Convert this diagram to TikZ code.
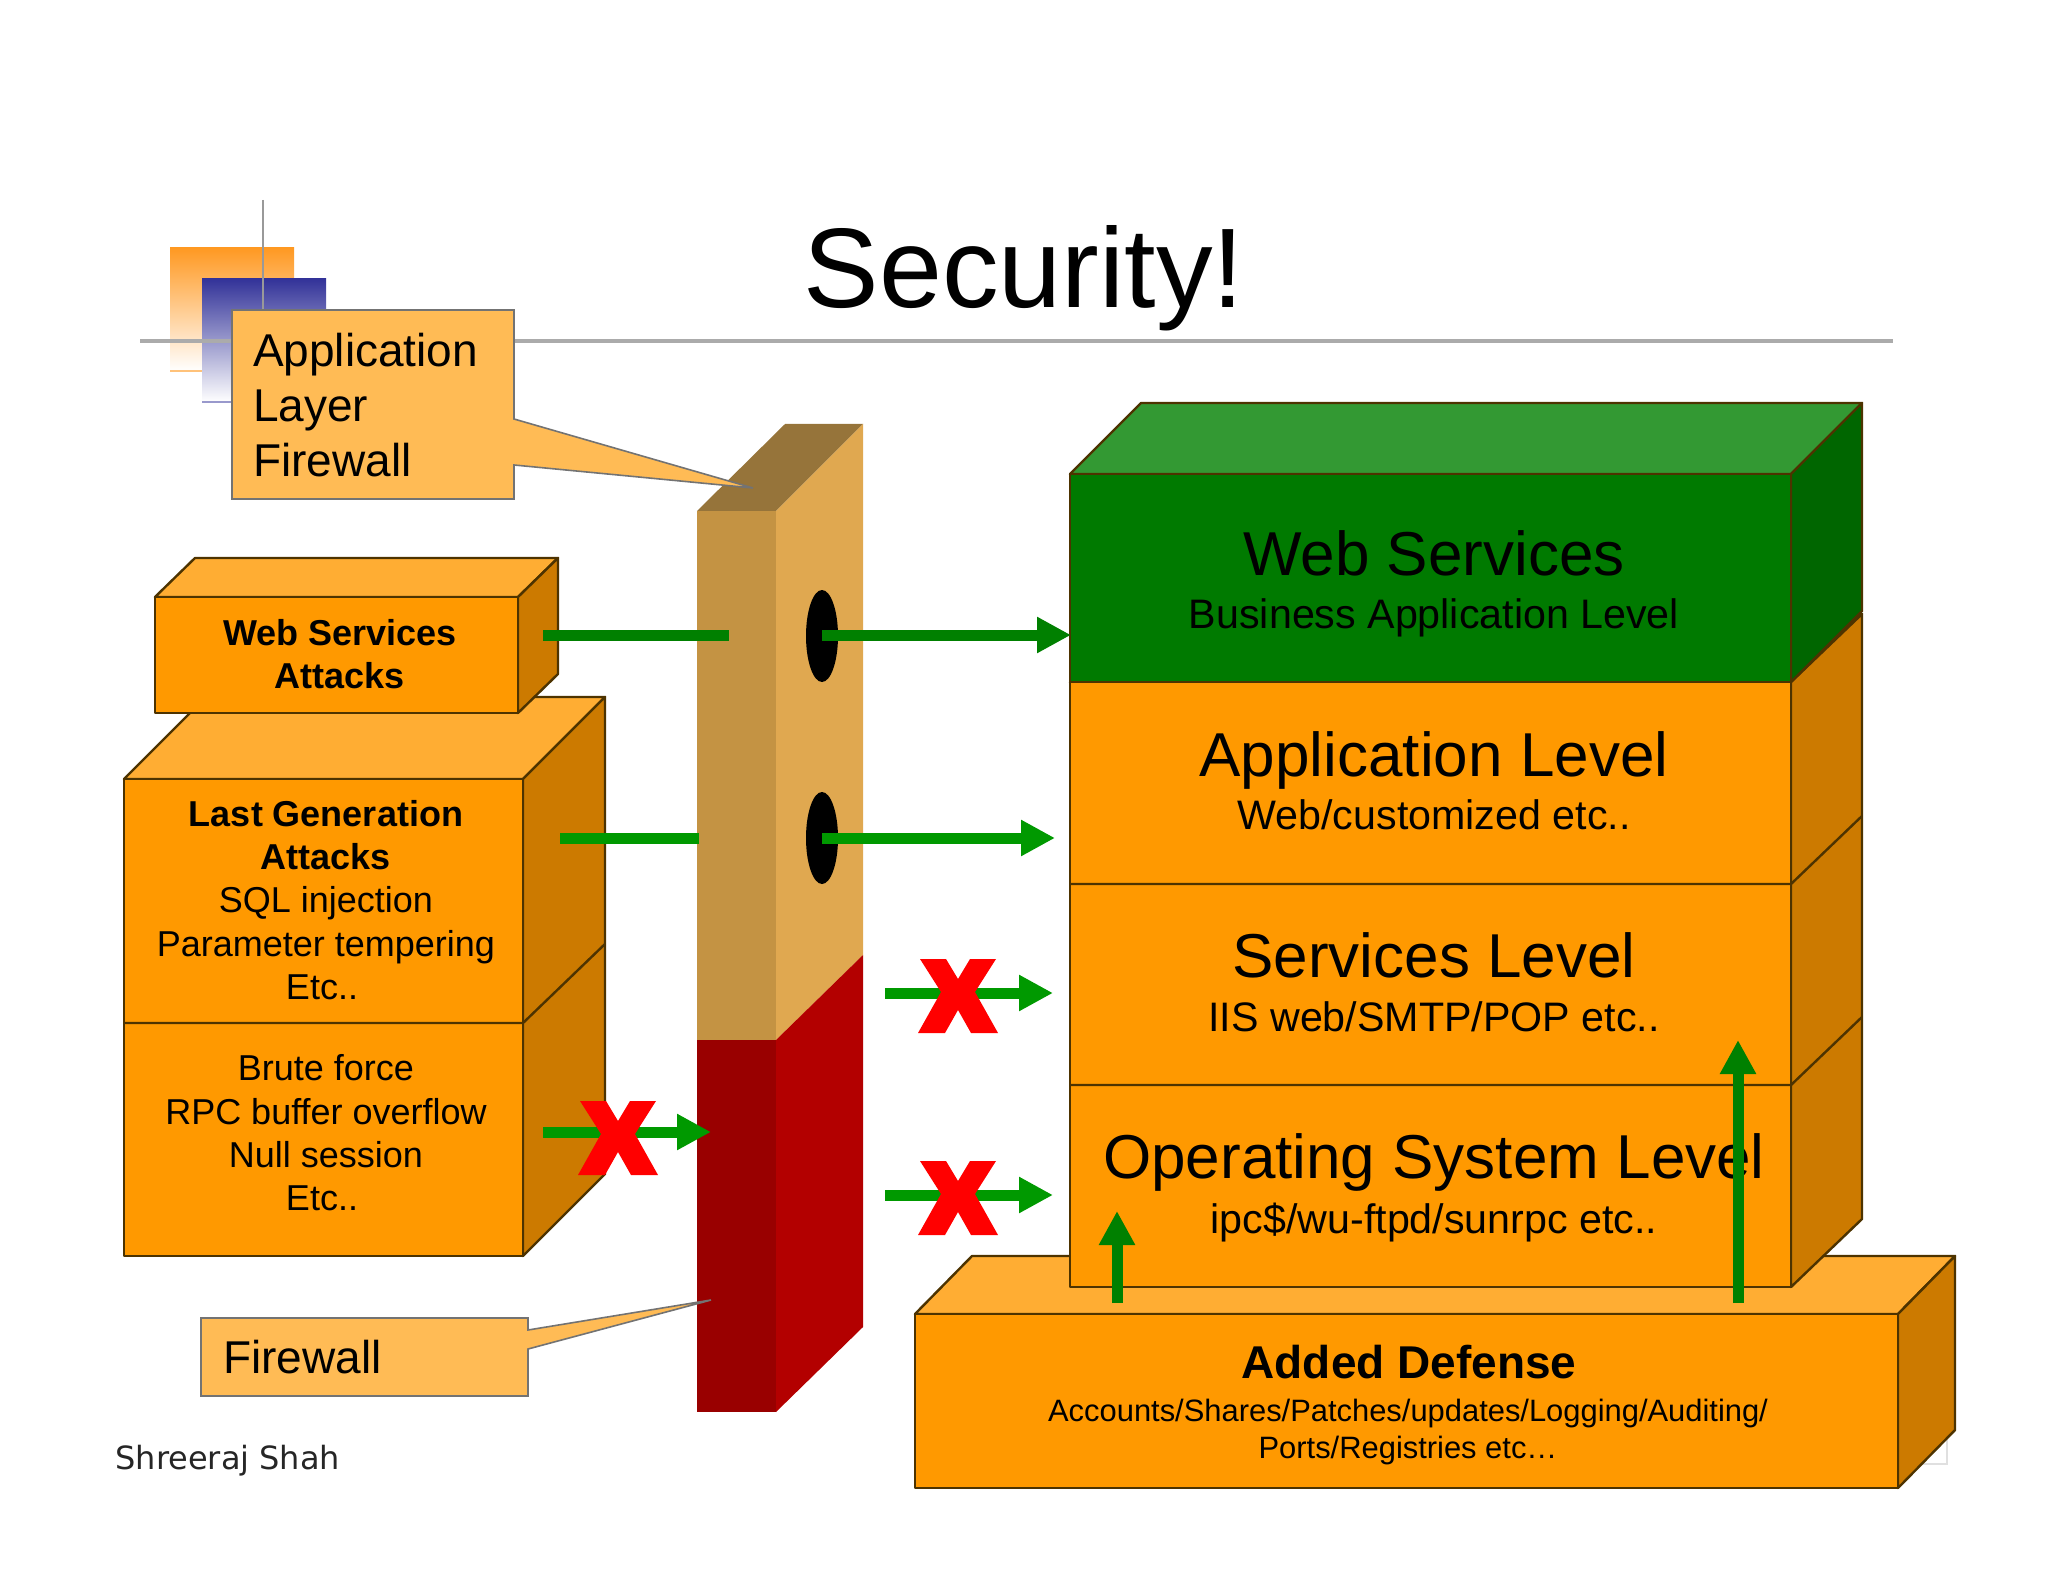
\documentclass[tikz,border=0pt]{standalone}
\usepackage{fontspec}
\setmainfont{Liberation Sans}
\newfontfamily\authorfont{DejaVu Sans}
\usetikzlibrary{arrows.meta, shapes.geometric}

\definecolor{boxfront}{HTML}{FF9900}
\definecolor{boxtop}{HTML}{FFAD33}
\definecolor{boxside}{HTML}{CC7A00}
\definecolor{webfront}{HTML}{007A00}
\definecolor{webtop}{HTML}{339933}
\definecolor{webside}{HTML}{006600}
\definecolor{calloutfill}{HTML}{FFBB55}
\definecolor{wallfront}{HTML}{C49343}
\definecolor{wallside}{HTML}{E0A850}
\definecolor{walltop}{HTML}{96743A}
\definecolor{redfront}{HTML}{990000}
\definecolor{redside}{HTML}{B30000}
\definecolor{flowdark}{HTML}{008000}
\definecolor{flowlight}{HTML}{009900}
\definecolor{edgedark}{HTML}{4D3300}
\definecolor{logoorange}{HTML}{FF9922}
\definecolor{logoblue}{HTML}{333399}

\tikzset{
    face/.style={draw=edgedark, line width=1.2pt, line join=round},
    callout/.style={fill=calloutfill, draw=black!55, line width=0.8pt},
    flow/.style={line width=5.5pt, -{Triangle[length=17pt, width=17pt]}},
    stub/.style={line width=5.5pt},
    hole/.style={shape=ellipse, fill=black, inner sep=0pt, minimum width=16pt, minimum height=46pt},
    title/.style={anchor=base, font=\fontsize{56.6}{60}\selectfont},
    leveltitle/.style={anchor=base, font=\fontsize{31}{36}\selectfont},
    levelsub/.style={anchor=base, font=\fontsize{20.6}{24}\selectfont},
    attack/.style={align=center, font=\fontsize{18}{21.7}\selectfont},
    calloutlabel/.style={align=left, anchor=west, font=\fontsize{23}{27.6}\selectfont},
    redcross/.pic={
        \fill[red] (-38,-37) -- (-12,-37) -- (0,-17) -- (12,-37) -- (38,-37) -- (17,-4) -- (40,37)
            -- (13,37) -- (0,14) -- (-13,37) -- (-40,37) -- (-17,-4) -- cycle;
    },
}

% x0 y0 x1 y1 dx dy front top side
\newcommand{\solidblock}[9]{
    \filldraw[face, fill=#8] (#1,#2) -- +(#5,-#6) -- (#3+#5,#2-#6) -- (#3,#2) -- cycle;
    \filldraw[face, fill=#9] (#3,#2) -- (#3+#5,#2-#6) -- (#3+#5,#4-#6) -- (#3,#4) -- cycle;
    \filldraw[face, fill=#7] (#1,#2) rectangle (#3,#4);
}

\begin{document}
\begin{tikzpicture}[x=0.5pt, y=-0.5pt]
    \useasboundingbox (0,0) rectangle (2048,1582);

    % logo squares and title rule
    \shade[top color=logoorange, bottom color=white] (170,248) rectangle (294,371);
    \draw[logoorange!60, line width=0.7pt] (170,371) -- (294,371);
    \shade[top color=logoblue, bottom color=white] (202,279) rectangle (326,402);
    \draw[logoblue!50, line width=0.7pt] (202,402) -- (326,402);
    \coordinate (ruleleft) at (140,341);
    \coordinate (ruleright) at (1893,341);
    \coordinate (ticktop) at (263,200);
    \coordinate (tickbottom) at (263,310);
    \draw[black!33, line width=2.2pt] (ruleleft) -- (ruleright);
    \draw[black!40, line width=1.3pt] (ticktop) -- (tickbottom);
    \node[title] (security) at (1024,308) {Security!};

    % firewall wall
    \fill[wallfront] (697,511) rectangle (776,1040);
    \fill[walltop] (697,511) -- (776,511) -- (863,424) -- (785,424) -- cycle;
    \fill[wallside] (776,511) -- (863,424) -- (863,955) -- (776,1040) -- cycle;
    \fill[redfront] (697,1040) rectangle (776,1412);
    \fill[redside] (776,1040) -- (863,955) -- (863,1327) -- (776,1412) -- cycle;
    \node[hole] (hole1) at (822,636) {};
    \node[hole] (hole2) at (822,838) {};

    % attack boxes
    \solidblock{124}{779}{523}{1256}{82}{82}{boxfront}{boxtop}{boxside}
    \draw[face] (124,1023) -- (523,1023) -- (605,944);
    \solidblock{155}{597}{518}{713}{40}{39}{boxfront}{boxtop}{boxside}
    \node[attack] (webattack) at (340,654) {\textbf{Web Services}\\\textbf{Attacks}};
    \node[attack] (lastgen) at (326,900) {\textbf{Last Generation}\\\textbf{Attacks}\\SQL injection\\Parameter tempering\\Etc..\kern4pt};
    \node[attack] (brute) at (326,1133) {Brute force\\RPC buffer overflow\\Null session\\Etc..\kern4pt};

    % levels
    \draw[black!12, line width=0.7pt] (1900,1440) -- (1947,1440) -- (1947,1464) -- (1900,1464);
    \solidblock{915}{1314}{1898}{1488}{57}{58}{boxfront}{boxtop}{boxside}
    \solidblock{1070}{682}{1791}{1287}{71}{68}{boxfront}{boxtop}{boxside}
    \draw[face] (1070,884) -- (1791,884) -- +(71,-68);
    \draw[face] (1070,1085) -- (1791,1085) -- +(71,-68);
    \solidblock{1070}{474}{1791}{682}{71}{71}{webfront}{webtop}{webside}

    \node[leveltitle] (webservices) at (1434,575) {Web Services};
    \node[levelsub] (business) at (1434,628) {Business Application Level};
    \node[leveltitle] (application) at (1434,776) {Application Level};
    \node[levelsub] (customized) at (1434,829) {Web/customized etc..};
    \node[leveltitle] (services) at (1434,977) {Services Level};
    \node[levelsub] (iis) at (1434,1031) {IIS web/SMTP/POP etc..};
    \node[leveltitle] (os) at (1434,1178) {Operating System Level};
    \node[levelsub] (ipc) at (1434,1233) {ipc\$/wu-ftpd/sunrpc etc..};
    \node[anchor=base, font=\bfseries\fontsize{23}{28}\selectfont] (defense) at (1409,1378) {Added Defense};
    \node[anchor=center, align=center, font=\fontsize{15.45}{18.5}\selectfont] (accounts) at (1408,1432) {Accounts/Shares/Patches/updates/Logging/Auditing/\\Ports/Registries etc\ldots};

    % callouts
    \filldraw[callout] (232,310) -- (514,310) -- (514,419) -- (753,488) -- (514,465) -- (514,499) -- (232,499) -- cycle;
    \node[calloutlabel] (applabel) at (246,405) {Application\\Layer\\Firewall};
    \filldraw[callout] (201,1318) -- (528,1318) -- (528,1330) -- (711,1300) -- (528,1349) -- (528,1396) -- (201,1396) -- cycle;
    \node[calloutlabel] (walllabel) at (216,1357) {Firewall};

    % flows through the wall
    \coordinate (webstart) at (543,635);
    \coordinate (webstop) at (729,635);
    \coordinate (webend) at (1071,635);
    \coordinate (laststart) at (560,838);
    \coordinate (laststop) at (699,838);
    \coordinate (lastend) at (1055,838);
    \coordinate (brutestart) at (543,1132);
    \coordinate (bruteend) at (711,1132);
    \coordinate (servstart) at (885,993);
    \coordinate (servend) at (1053,993);
    \coordinate (osstart) at (885,1195);
    \coordinate (osend) at (1053,1195);
    \draw[stub, flowdark] (webstart) -- (webstop);
    \draw[flow, flowdark] (hole1.center |- webend) -- (webend);
    \draw[stub, flowlight] (laststart) -- (laststop);
    \draw[flow, flowlight] (hole2.center) -- (lastend);
    \draw[flow, flowlight] (brutestart) -- (bruteend);
    \draw[flow, flowlight] (servstart) -- (servend);
    \draw[flow, flowlight] (osstart) -- (osend);
    \pic at (618,1138) {redcross};
    \pic at (958,996) {redcross};
    \pic at (958,1198) {redcross};

    % flows out of the added defense
    \coordinate (shortstart) at (1117,1303);
    \coordinate (shortend) at (1117,1211);
    \coordinate (longstart) at (1738,1303);
    \coordinate (longend) at (1738,1040);
    \draw[flow, flowdark] (shortstart) -- (shortend);
    \draw[flow, flowdark] (longstart) -- (longend);

    \node[anchor=base west, inner sep=0pt, text=black!85, font=\authorfont\fontsize{16}{20}\selectfont] (author) at (115,1469) {Shreeraj Shah};
\end{tikzpicture}
\end{document}
